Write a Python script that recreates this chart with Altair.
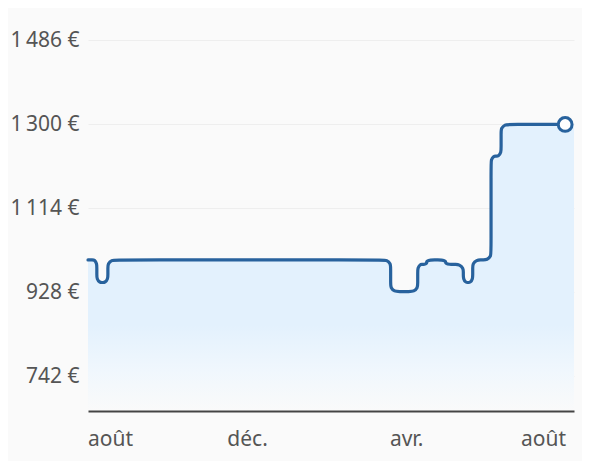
import altair as alt
import pandas as pd

# ---- data ----
seg_start = [0, 8, 18, 274, 298.5, 306.6, 323.8, 339.8, 348.3, 364.9, 374]   # day a price starts
seg_price = [999, 949, 999, 929, 989, 999, 989, 949, 999, 1229, 1299]       # price (EUR)
last_day = 432          # last observation (circle)
area_end_day = 440      # end of the x domain

x_ticks = [20, 144, 288, 412]
x_labels = ["août", "déc.", "avr.", "août"]
y_ticks = [742, 928, 1114, 1300, 1486]
y_labels = ["742 €", "928 €", "1\u202f114 €", "1\u202f300 €", "1\u202f486 €"]
y_floor = 664.5

LINE = "#28629d"
FONT = "Noto Sans"

# corner rounding radius in data units (days / euros)
RX, RY = 3.6, 8.5


def step_vertices(end):
    v = [(seg_start[0], seg_price[0])]
    for i in range(1, len(seg_start)):
        v.append((seg_start[i], seg_price[i - 1]))
        v.append((seg_start[i], seg_price[i]))
    v.append((end, seg_price[-1]))
    return v


def sgn(a):
    return 1 if a > 0 else -1


def toward(V, A):
    """points along leg V->A at distances r and 2r (capped for short legs)"""
    dx, dy = A[0] - V[0], A[1] - V[1]
    if dx != 0:
        L, r = abs(dx), RX
        d1, d2 = min(r, L / 4), min(2 * r, L / 2)
        return (V[0] + sgn(dx) * d1, V[1]), (V[0] + sgn(dx) * d2, V[1])
    L, r = abs(dy), RY
    d1, d2 = min(r, L / 4), min(2 * r, L / 2)
    return (V[0], V[1] + sgn(dy) * d1), (V[0], V[1] + sgn(dy) * d2)


def rounded(verts):
    pts = [verts[0]]
    for k in range(1, len(verts) - 1):
        P, V, N = verts[k - 1], verts[k], verts[k + 1]
        a1, a2 = toward(V, P)
        b1, b2 = toward(V, N)
        pts += [a2, a1, b1, b2]
    pts.append(verts[-1])
    return pd.DataFrame({"day": [p[0] for p in pts],
                         "price": [p[1] for p in pts],
                         "i": list(range(len(pts))),
                         "base": y_floor})


line_df = rounded(step_vertices(last_day))
area_df = rounded(step_vertices(area_end_day))
end_df = pd.DataFrame({"day": [last_day], "price": [seg_price[-1]]})


def expr(vals, labs):
    s = "''"
    for v, l in reversed(list(zip(vals, labs))):
        s = f"datum.value == {v} ? '{l}' : ({s})"
    return s


xs = alt.Scale(domain=[0, area_end_day], nice=False, zero=False)
ys = alt.Scale(domain=[y_floor, 1486], nice=False, zero=False)

x_axis = alt.Axis(values=x_ticks, labelExpr=expr(x_ticks, x_labels), title=None,
                  grid=False, ticks=False, domain=True, domainColor="#444444",
                  domainWidth=2, labelFont=FONT, labelFontSize=21, labelColor="#555555",
                  labelPadding=17, labelFlush=False, labelOverlap=False, zindex=1)
y_axis = alt.Axis(values=y_ticks, labelExpr=expr(y_ticks, y_labels), title=None,
                  grid=True, gridColor="#eeeeee", gridWidth=1, ticks=False, domain=False,
                  labelFont=FONT, labelFontSize=21, labelColor="#555555",
                  labelPadding=9, labelOverlap=False, zindex=0)

grad = alt.LinearGradient(
    gradient="linear",
    stops=[alt.GradientStop(color="#fafafa", offset=0),
           alt.GradientStop(color="#f0f7fd", offset=0.14),
           alt.GradientStop(color="#e3f1fd", offset=0.3),
           alt.GradientStop(color="#e3f1fd", offset=1)],
    x1=0, x2=0, y1=1, y2=0)

area = alt.Chart(area_df).mark_area(interpolate="basis", color=grad).encode(
    x=alt.X("day:Q", scale=xs, axis=x_axis),
    y=alt.Y("price:Q", scale=ys, axis=y_axis),
    y2=alt.Y2("base:Q"),
)

line = alt.Chart(line_df).mark_line(interpolate="basis", color=LINE, strokeWidth=3.2,
                                    strokeCap="round", strokeJoin="round").encode(
    x=alt.X("day:Q", scale=xs),
    y=alt.Y("price:Q", scale=ys),
    order=alt.Order("i:Q"),
)

dot = alt.Chart(end_df).mark_point(shape="circle", filled=True, fill="white", stroke=LINE,
                                   strokeWidth=3, size=190, opacity=1).encode(
    x=alt.X("day:Q", scale=xs),
    y=alt.Y("price:Q", scale=ys),
)

chart = alt.layer(area, line, dot).properties(
    width=486, height=371,
    padding={"left": 80, "top": 32, "right": 8, "bottom": 50},
    autosize=alt.AutoSizeParams(type="none"),
    background="#fafafa",
).configure_view(stroke=None)

chart.save("out.html", embed_options={"renderer": "svg", "actions": False})
